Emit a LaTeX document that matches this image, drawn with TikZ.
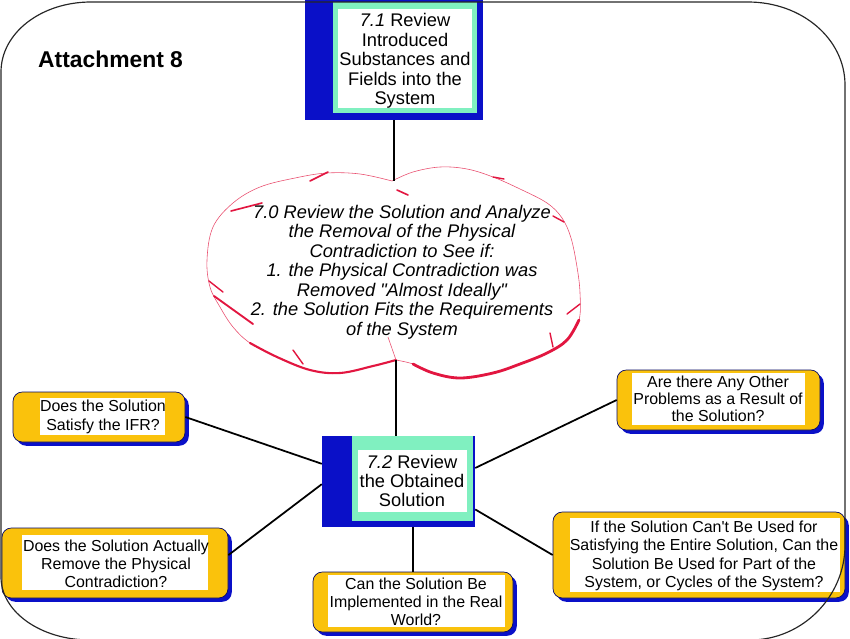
\documentclass[tikz,border=0pt]{standalone}
\usepackage{fontspec}
\setmainfont{Liberation Sans}
\setsansfont{Liberation Sans}
\usetikzlibrary{fit}
\usetikzlibrary{shadows}
\definecolor{boxblue}{RGB}{10,16,200}
\definecolor{panelgreen}{RGB}{128,240,192}
\definecolor{qyellow}{RGB}{250,194,12}
\definecolor{cloudred}{RGB}{226,22,64}

\begin{document}
\begin{tikzpicture}[x=0.03cm,y=-0.03cm]
	\tikzset{back/.style = {fill=boxblue, inner sep=0pt}}
	\tikzset{panel/.style = {fill=panelgreen, inner sep=0pt}}
	\tikzset{pad/.style = {fill=white, inner sep=0pt}}
	\tikzset{steptext/.style = {align=center, inner sep=0pt, font=\fontsize{15.6}{16.6}\selectfont}}
	\tikzset{cloudtext/.style = {align=center, inner sep=0pt, font=\itshape\fontsize{15.6}{16.6}\selectfont}}
	\tikzset{qbox/.style = {fill=qyellow, draw=boxblue!50!black, line width=0.6pt, rounded corners=8pt, inner sep=0pt,
			general shadow={fill=boxblue, shadow xshift=3.2pt, shadow yshift=-3.2pt}}}
	\tikzset{qtext/.style = {align=center, inner sep=0pt, font=\fontsize{13.6}{15.4}\selectfont}}
	\tikzset{cloudline/.style = {draw=cloudred!75, line width=0.5pt}}
	\tikzset{cloudthick/.style = {draw=cloudred, line width=2.4pt, line cap=round}}
	\tikzset{edge/.style = {draw=black, line width=1.5pt}}
	\tikzset{frame/.style = {draw=black!85, line width=1pt}}
	\useasboundingbox (0,0) rectangle (850,638);
	% title
	\node[anchor=base west, inner sep=0pt, font=\bfseries\fontsize{19.5}{22}\selectfont] (title) at (38,67) {Attachment 8};
	% step boxes
	\node[back, fit={(305,-5) (483,120)}] (r71) {};
	\node[panel, fit={(333,2) (477,113)}] (r71g) {};
	\node[pad, fit={(338,9) (472,108)}] (r71w) {};
	\node[steptext] (t71) at (405,61) {\textit{7.1} Review\\Introduced\\Substances and\\Fields into the\\System};
	\node[back, fit={(322,436) (475,527)}] (r72) {};
	\node[panel, fit={(352,436) (473,521)}] (r72g) {};
	\node[pad, fit={(358,450) (467,512)}] (r72w) {};
	\node[steptext] (t72) at (412,481) {\textit{7.2} Review\\the Obtained\\Solution};
	% cloud
	\coordinate (cloudtop) at (392,181);
	\coordinate (cloudbot) at (396,360);
	\draw[cloudline] plot[smooth, tension=0.6] coordinates {(392,181) (413,172) (440,167) (467,169) (493,177) (520,189) (547,203) (562,218) (571,238) (577,267) (580,293) (579,320) (567,340) (547,353) (520,364) (493,373) (460,378) (433,373) (413,364) (396,360)};
	\draw[cloudline] plot[smooth, tension=0.6] coordinates {(396,360) (373,366) (340,373) (310,370) (277,357) (250,343) (233,327) (220,307) (210,287) (207,260) (213,227) (233,203) (260,187) (295,178) (327,173) (360,174) (392,181)};
	\draw[cloudthick] plot[smooth, tension=0.6] coordinates {(413,364) (433,373) (460,378) (493,373) (520,364) (547,353) (567,340) (579,320)};
	\draw[cloudthick, line width=1.8pt] plot[smooth, tension=0.6] coordinates {(250,343) (277,357) (310,370) (340,373) (373,366) (396,360)};
	\draw[cloudthick, line width=1.4pt] (310,181) -- (328,172);
	\draw[cloudthick, line width=1.4pt] (397,190) -- (408,195);
	\draw[cloudthick, line width=1.4pt] (231,211) -- (262,203);
	\draw[cloudthick, line width=1.2pt] (493,177) -- (504,179);
	\draw[cloudthick, line width=1.2pt] (553,216) -- (564,222);
	\draw[cloudthick, line width=1.2pt] (209,281) -- (223,292);
	\draw[cloudthick, line width=1.6pt] (214,296) -- (253,324);
	\draw[cloudthick, line width=1.2pt] (293,350) -- (303,364);
	\draw[cloudthick, line width=1.2pt] (550,333) -- (553,347);
	\draw[cloudthick, line width=1.2pt] (567,314) -- (580,304);
	\draw[cloudline] (388,337) -- (396,360);
	\node[cloudtext] (c70) at (402,272) {7.0 Review the Solution and Analyze\\the Removal of the Physical\\Contradiction to See if:\\1. the Physical Contradiction was\\Removed \textquotedbl Almost Ideally\textquotedbl\\2. the Solution Fits the Requirements\\of the System};
	% questions
	\node[qbox, fit={(13,392) (185,442)}] (qA) {};
	\node[pad, fit={(40,398) (165,435)}] (qAw) {};
	\node[qtext, font=\fontsize{13.6}{16.2}\selectfont] (tA) at (103,417) {Does the Solution\\Satisfy the IFR?};
	\node[qbox, fit={(617,370) (820,430)}] (qB) {};
	\node[pad, fit={(632,373) (805,425)}] (qBw) {};
	\node[qtext, font=\fontsize{13.6}{14.5}\selectfont] (tB) at (718,399) {Are there Any Other\\Problems as a Result of\\the Solution?};
	\node[qbox, fit={(2,528) (228,598)}] (qC) {};
	\node[pad, fit={(22,535) (208,590)}] (qCw) {};
	\node[qtext] (tC) at (116,564) {Does the Solution Actually\\Remove the Physical\\Contradiction?};
	\node[qbox, fit={(313,572) (513,632)}] (qD) {};
	\node[pad, fit={(328,575) (505,627)}] (qDw) {};
	\node[qtext] (tD) at (416,602) {Can the Solution Be\\Implemented in the Real\\World?};
	\node[qbox, fit={(553,512) (845,598)}] (qE) {};
	\node[pad, fit={(570,518) (840,592)}] (qEw) {};
	\node[qtext, font=\fontsize{13.6}{15.6}\selectfont] (tE) at (704,556) {If the Solution Can\textquotesingle t Be Used for\\Satisfying the Entire Solution, Can the\\Solution Be Used for Part of the\\System, or Cycles of the System?};
	% edges
	\draw[edge] (r71.south) -- (r71.south |- cloudtop);
	\draw[edge] (cloudbot) -- (cloudbot |- r72.north);
	\draw[edge] (r72.167) -- (qA.east);
	\draw[edge] (r72.10) -- (qB.west);
	\draw[edge] (r72.182) -- (qC.4);
	\draw[edge] (r72.-20) -- (qE.west);
	\draw[edge] (qD.north) -- (qD.north |- r72.south);
	% frame
	\draw[frame] (1,72) .. controls (1,33) and (41,2) .. (91,2) -- (748,2) .. controls (802,2) and (845,39) .. (845,85) -- (845,545) .. controls (845,597) and (802,640) .. (750,640) -- (90,640) .. controls (41,640) and (1,612) .. (1,577) -- cycle;
\end{tikzpicture}
\end{document}
